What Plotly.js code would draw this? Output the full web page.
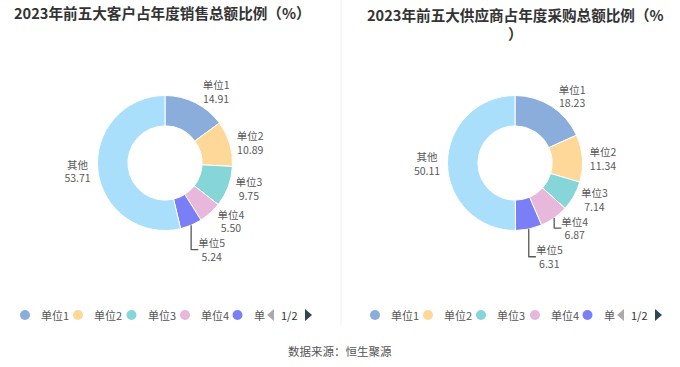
<!DOCTYPE html>
<html>
<head>
<meta charset="utf-8">
<script src="https://cdn.plot.ly/plotly-3.0.1.min.js"></script>
<style>html,body{margin:0;padding:0;background:#fff;}#chart{width:680px;height:367px;}</style>
</head>
<body>
<div id="chart"></div>
<script>
// ---- data ----
const categories = ["单位1", "单位2", "单位3", "单位4", "单位5", "其他"];
const customerShare = [14.91, 10.89, 9.75, 5.50, 5.24, 53.71];
const supplierShare = [18.23, 11.34, 7.14, 6.87, 6.31, 50.11];
const leftTitle = "2023年前五大客户占年度销售总额比例（%）";
const rightTitle = "2023年前五大供应商占年度采购总额比例（%<br>）";
const legendLabels = ["单位1", "单位2", "单位3", "单位4", "单"];
const pagerText = "1/2";
const sourceText = "数据来源：恒生聚源";

// ---- style ----
const colors = ["#8aaddb", "#fed898", "#85d5d9", "#e8b8dc", "#7b7ff6", "#a9dffa"];
const FONT = "'Noto Sans CJK SC', 'Noto Sans', sans-serif";
const W = 680, H = 367;

function pieTrace(values, cx, cy, r) {
  return {
    type: "pie",
    labels: categories,
    values: values,
    sort: false,
    direction: "clockwise",
    rotation: 0,
    hole: 0.55,
    marker: {colors: colors, line: {color: "#ffffff", width: 1}},
    textposition: "outside",
    texttemplate: "%{label}<br>%{value:.2f}",
    textfont: {family: FONT, size: 10.5, color: "#595959"},
    outsidetextfont: {family: FONT, size: 10.5, color: "#595959"},
    automargin: false,
    showlegend: false,
    hoverinfo: "label+value",
    domain: {
      x: [(cx - r) / W, (cx + r) / W],
      y: [1 - (cy + r) / H, 1 - (cy - r) / H]
    }
  };
}

const data = [
  pieTrace(customerShare, 165, 163, 67.5),
  pieTrace(supplierShare, 515, 163, 67.5)
];

const annotations = [];
const shapes = [];

// titles
const titleFont = {family: FONT, size: 14.6, color: "#333333"};
annotations.push({text: "<b>" + leftTitle + "</b>", x: 162 / W, y: 1 - 13 / H, xref: "paper", yref: "paper",
  xanchor: "center", yanchor: "middle", showarrow: false, font: titleFont});
annotations.push({text: "<b>" + rightTitle + "</b>", x: 515 / W, y: 1 - 2 / H, xref: "paper", yref: "paper",
  xanchor: "center", yanchor: "top", align: "center", showarrow: false, font: titleFont});

// divider
shapes.push({type: "line", xref: "paper", yref: "paper", x0: 341 / W, x1: 341 / W, y0: 1 - 0 / H, y1: 1 - 325 / H,
  line: {color: "#f0f0f0", width: 1}});

// custom legends (paged, as in the reference)
function addLegend(circleXs, pagerX) {
  const ly = 1 - 315 / H;
  legendLabels.forEach((lab, i) => {
    const cx = circleXs[i];
    shapes.push({type: "circle", xref: "paper", yref: "paper",
      x0: (cx - 5) / W, x1: (cx + 5) / W, y0: ly - 5 / H, y1: ly + 5 / H,
      fillcolor: colors[i], line: {width: 0}});
    annotations.push({text: lab, x: (cx + 14) / W, y: ly, xref: "paper", yref: "paper",
      xanchor: "left", yanchor: "middle", showarrow: false,
      font: {family: FONT, size: 11, color: "#555555"}});
  });
  // pager arrows
  shapes.push({type: "path", xref: "paper", yref: "paper",
    path: `M ${(pagerX + 7) / W} ${ly + 6 / H} L ${(pagerX) / W} ${ly} L ${(pagerX + 7) / W} ${ly - 6 / H} Z`,
    fillcolor: "#aaaaaa", line: {width: 0}});
  annotations.push({text: pagerText, x: (pagerX + 22) / W, y: ly, xref: "paper", yref: "paper",
    xanchor: "center", yanchor: "middle", showarrow: false, font: {family: FONT, size: 11, color: "#333333"}});
  shapes.push({type: "path", xref: "paper", yref: "paper",
    path: `M ${(pagerX + 38) / W} ${ly + 6 / H} L ${(pagerX + 45) / W} ${ly} L ${(pagerX + 38) / W} ${ly - 6 / H} Z`,
    fillcolor: "#2f4554", line: {width: 0}});
}
addLegend([25, 78, 131.5, 185, 237.5], 267);
addLegend([375, 428, 481, 535, 587.5], 617);

// source
annotations.push({text: sourceText, x: 340 / W, y: 1 - 351 / H, xref: "paper", yref: "paper",
  xanchor: "center", yanchor: "middle", showarrow: false, font: {family: FONT, size: 11.5, color: "#555555"}});

const layout = {
  width: W, height: H,
  margin: {l: 0, r: 0, t: 0, b: 0},
  paper_bgcolor: "#ffffff",
  plot_bgcolor: "#ffffff",
  showlegend: false,
  font: {family: FONT},
  annotations: annotations,
  shapes: shapes
};

Plotly.newPlot("chart", data, layout, {displayModeBar: false, staticPlot: true});
</script>
</body>
</html>
